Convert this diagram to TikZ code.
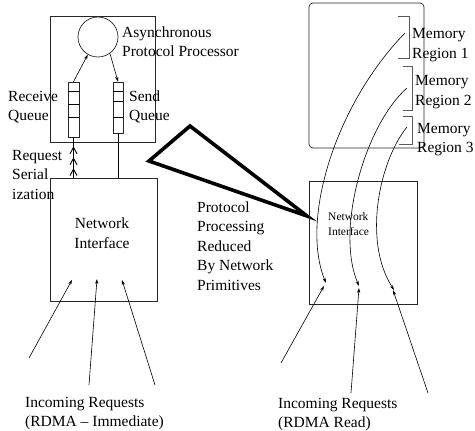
\documentclass[tikz,border=0pt]{standalone}
\usepackage{fontspec}
\setmainfont{Liberation Serif}
\usetikzlibrary{arrows.meta,calc}

\tikzset{chevron/.tip={Straight Barb[length=6.5pt,width=7pt,line width=0.9pt,sep=3pt]}}

\begin{document}
\begin{tikzpicture}[x=1pt,y=-1pt,
  box/.style={draw=black!85, line width=0.7pt, rectangle, inner sep=0pt},
  conn/.style={line width=0.6pt},
  arr/.style={conn, -{Stealth[length=5pt,width=3.2pt]}},
  lbl/.style={align=left, anchor=base west, inner sep=0pt,
              font=\fontsize{15.5}{19.5}\selectfont},
  small/.style={align=left, anchor=base west, inner sep=0pt,
                font=\fontsize{11.5}{15}\selectfont},
  bracket/.style={draw=black!65, line width=0.8pt}]
\useasboundingbox (0,0) rectangle (475,431);

% ---------- left side: host with asynchronous protocol processing ----------
\node[box, minimum width=105pt, minimum height=126pt] (host) at (102.5,79) {};
\node[draw=black!85, line width=0.7pt, circle, inner sep=0pt, minimum size=40pt] (proc) at (98,37) {};
\node[box, minimum width=11pt, minimum height=55pt] (rq) at (73.5,109.5) {};
\node[box, minimum width=10pt, minimum height=51pt] (sq) at (118,107.5) {};
\foreach \d in {10,23,36}
  \draw[conn] ($(rq.north west)+(0,\d)$) -- ($(rq.north east)+(0,\d)$);
\foreach \d in {10,20,36}
  \draw[conn] ($(sq.north west)+(0,\d)$) -- ($(sq.north east)+(0,\d)$);

\draw[arr] (rq.north) -- (proc.240);
\draw[arr] (proc.306) -- (sq.north);

% multi-line labels are anchored at the baseline of their last line
\node[lbl] (asynclbl) at (122,56.5) {Asynchronous\\Protocol Processor};
\node[lbl] (rqlbl) at (8,120.5) {Receive\\Queue};
\node[lbl] (sqlbl) at (129,120.5) {Send\\Queue};

\node[box, minimum width=107pt, minimum height=123pt] (ni1) at (103.5,239.5) {};
\node[lbl, align=center, anchor=base] (ni1lbl) at (102,248) {Network\\Interface};

\coordinate (ser) at (ni1.north -| rq.south);
\draw[conn] (ser) -- (rq.south);
\draw[conn, shorten >=6pt, -{chevron[]chevron[]chevron[]}] (ser) -- (rq.south);
\draw[conn] (sq.south) -- (sq.south |- ni1.north);

\node[lbl] (serlbl) at (12,199) {Request\\Serial\\ization};

\coordinate (inA) at (29,358);
\coordinate (inB) at (89,385);
\coordinate (inC) at (155,385);
\coordinate (hitA) at (72,280);
\coordinate (hitB) at (97,279);
\coordinate (hitC) at (122,280);
\draw[arr] (inA) -- (hitA);
\draw[arr] (inB) -- (hitB);
\draw[arr] (inC) -- (hitC);
\node[lbl] (inlbl1) at (25,426.5) {Incoming Requests\\(RDMA -- Immediate)};

% ---------- middle: thick wedge ----------
\node[lbl] (pplbl) at (197,290) {Protocol\\Processing\\Reduced\\By Network\\Primitives};
\draw[line width=3.6pt] (190,126) -- (149,161) -- (307,216) -- cycle;

% ---------- right side: memory regions reached through network primitives ----------
\node[draw=black!85, line width=0.7pt, rounded corners=4pt, inner sep=0pt,
      minimum width=115pt, minimum height=145pt] (mem) at (366.5,75.5) {};
\draw[bracket] (398,16) -- (409,16) -- (409,58) -- (398,58);
\draw[bracket] (403,66) -- (412,66) -- (412,110) -- (403,110);
\draw[bracket] (403,116) -- (412,116) -- (412,144) -- (399,144);
\node[lbl] (mr1) at (412,58) {Memory\\Region 1};
\node[lbl] (mr2) at (415,105) {Memory\\Region 2};
\node[lbl] (mr3) at (417,152.5) {Memory\\Region 3};

\node[box, minimum width=108pt, minimum height=123pt] (ni2) at (363,242.5) {};
\node[small] (ni2lbl) at (328,235) {Network\\Interface};

\coordinate (r1) at (405,33);
\coordinate (r2) at (407,88);
\coordinate (r3) at (407,127);
\coordinate (e1) at (326,283);
\coordinate (e2) at (359,286);
\coordinate (e3) at (394,290);
\draw[arr] (r1) .. controls (335,105) and (300,220) .. (e1);
\draw[arr] (r2) .. controls (365,125) and (335,230) .. (e2);
\draw[arr] (r3) .. controls (380,160) and (362,240) .. (e3);

\coordinate (inD) at (281,363);
\coordinate (inE) at (351,393);
\coordinate (inF) at (428,393);
\coordinate (hitD) at (324,286);
\coordinate (hitE) at (359,288);
\coordinate (hitF) at (393,290);
\draw[arr] (inD) -- (hitD);
\draw[arr] (inE) -- (hitE);
\draw[arr] (inF) -- (hitF);
\node[lbl] (inlbl2) at (278,427.5) {Incoming Requests\\(RDMA Read)};
\end{tikzpicture}
\end{document}
